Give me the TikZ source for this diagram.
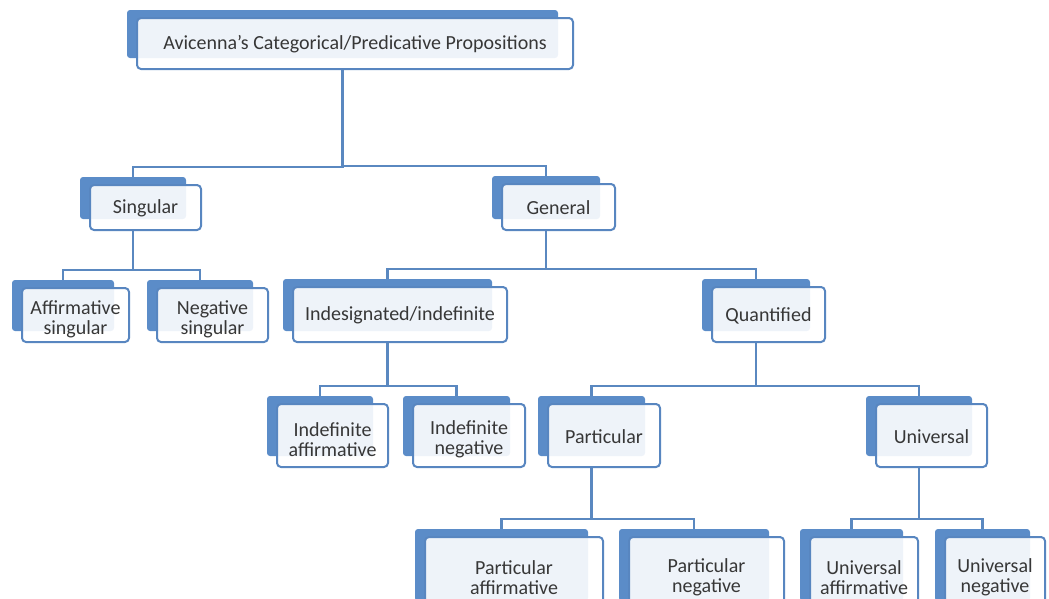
\documentclass[tikz,border=0pt]{standalone}
\usepackage{fontspec}
\setmainfont{Carlito}
\definecolor{tabblue}{RGB}{91,140,200}
\definecolor{edgeblue}{RGB}{88,134,192}
\definecolor{lineblue}{RGB}{90,136,192}
\definecolor{txt}{RGB}{55,55,55}
\pgfdeclarelayer{bg}
\pgfsetlayers{bg,main}
\tikzset{
  tabbox/.style={fill=tabblue, draw=none, rounded corners=3pt, inner sep=0pt, outer sep=0pt},
  frontbox/.style={fill=white, fill opacity=0.9, draw=edgeblue, line width=2pt,
    rounded corners=4pt, inner sep=0pt, outer sep=0pt},
  lbl/.style={inner sep=0pt, text=txt, font=\fontsize{20}{20}\selectfont, align=center},
  conn/.style={draw=lineblue, line width=2.8pt}
}
% #1 text shift, #2 name, #3..#6 box, #7 text
\newcommand\pbox[7][0]{%
  \node[tabbox, minimum width={(#5-#3-5)*1pt}, minimum height={(#6-#4-3)*1pt}]
    (#2-t) at ({(#3+#5)/2-12.5},{(#4+#6)/2-9.5}) {};
  \node[frontbox, minimum width={(#5-#3)*1pt}, minimum height={(#6-#4)*1pt}]
    (#2) at ({(#3+#5)/2},{(#4+#6)/2}) {};
  \node[lbl] (#2-l) at ([yshift=-#1pt]#2.center) {#7};
}
\newcommand\link[2]{%
  \draw[conn] (#1-t.center |- #1.south) |- ([yshift=10pt]#2-t.north) -- (#2-t.north);
}
\begin{document}
\begin{tikzpicture}[x=1pt,y=-1pt]
\useasboundingbox (0,0) rectangle (1049,598);
\clip (0,0) rectangle (1049,598);
\pbox[1]{top}{137}{18}{573}{69}{Avicenna’s Categorical/Predicative Propositions}
\pbox[1]{sing}{90}{185}{201}{230}{Singular}
\pbox[1]{gen}{502}{184}{615}{230}{General}
\pbox[4]{affs}{22}{288}{129}{342}{Affirmative\\singular}
\pbox[4]{negs}{157}{288}{268}{342}{Negative\\singular}
\pbox[1]{indes}{293}{287}{507}{342}{Indesignated/indefinite}
\pbox[1]{quant}{712}{287}{825}{342}{Quantified}
\pbox[4]{indaff}{277}{404}{388}{467}{Indefinite\\affirmative}
\pbox[4]{indneg}{413}{404}{525}{467}{Indefinite\\negative}
\pbox[1]{part}{548}{404}{660}{467}{Particular}
\pbox[1]{univ}{876}{404}{987}{467}{Universal}
\pbox[3]{partaff}{425}{537}{603}{612}{Particular\\affirmative}
\pbox[3]{partneg}{629}{537}{784}{612}{Particular\\negative}
\pbox[3]{univaff}{810}{537}{918}{612}{Universal\\affirmative}
\pbox[3]{univneg}{945}{537}{1045}{612}{Universal\\negative}
\begin{pgfonlayer}{bg}
\link{top}{sing}
\link{top}{gen}
\link{sing}{affs}
\link{sing}{negs}
\link{gen}{indes}
\link{gen}{quant}
\link{indes}{indaff}
\link{indes}{indneg}
\link{quant}{part}
\link{quant}{univ}
\link{part}{partaff}
\link{part}{partneg}
\link{univ}{univaff}
\link{univ}{univneg}
\end{pgfonlayer}
\end{tikzpicture}
\end{document}
